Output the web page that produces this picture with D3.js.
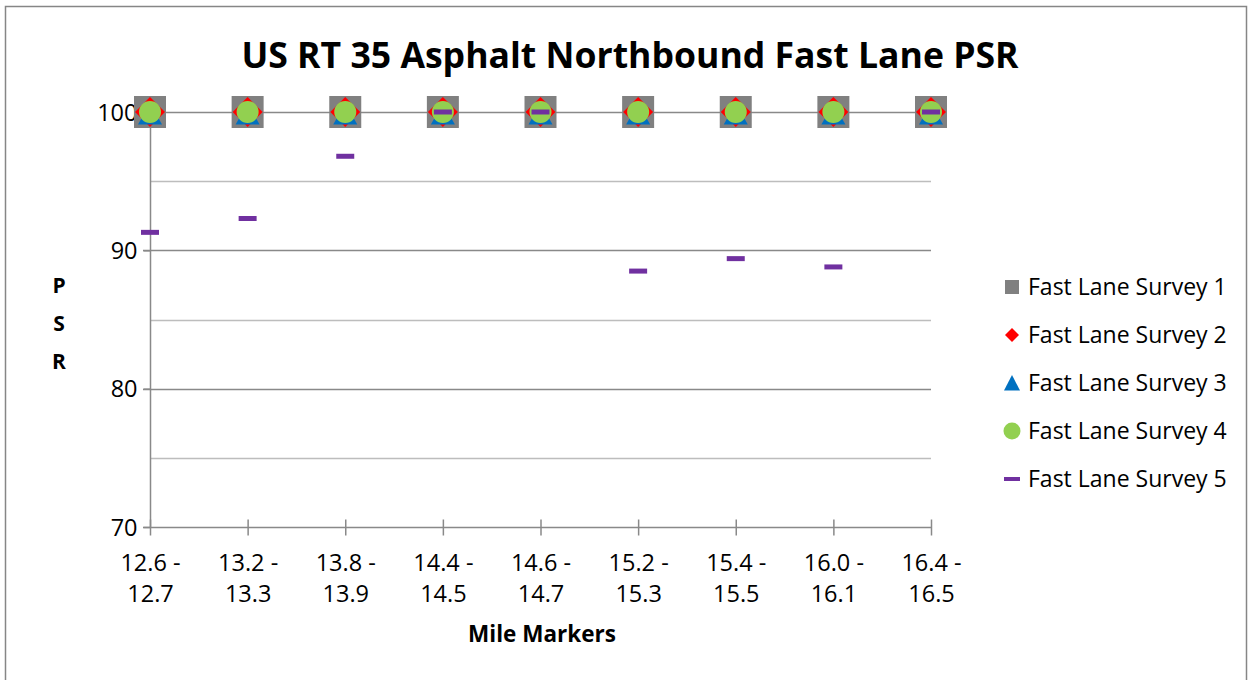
<!DOCTYPE html>
<html>
<head>
<meta charset="utf-8">
<script src="https://cdn.jsdelivr.net/npm/d3@7"></script>
<style>
  html, body { margin: 0; padding: 0; background: #fff; }
  svg { display: block; font-family: "Open Sans", sans-serif; }
</style>
</head>
<body>
<svg id="chart" width="1253" height="680"></svg>
<script>
// Mile-marker segments (two-line labels)
const segments = [
  ["12.6 -", "12.7"], ["13.2 -", "13.3"], ["13.8 -", "13.9"],
  ["14.4 -", "14.5"], ["14.6 -", "14.7"], ["15.2 -", "15.3"],
  ["15.4 -", "15.5"], ["16.0 -", "16.1"], ["16.4 -", "16.5"]
];

// PSR per survey, one value per segment
const survey1 = [100, 100, 100, 100, 100, 100, 100, 100, 100];
const survey2 = [100, 100, 100, 100, 100, 100, 100, 100, 100];
const survey3 = [100, 100, 100, 100, 100, 100, 100, 100, 100];
const survey4 = [100, 100, 100, 100, 100, 100, 100, 100, 100];
const survey5 = [91.3, 92.3, 96.8, 100, 100, 88.5, 89.4, 88.8, 100];

const seriesNames = ["Fast Lane Survey 1", "Fast Lane Survey 2", "Fast Lane Survey 3",
                     "Fast Lane Survey 4", "Fast Lane Survey 5"];
const majorTicks = [70, 80, 90, 100];
const minorTicks = [75, 85, 95];

const FONT = "'Open Sans', sans-serif";
const svg = d3.select("#chart");

// chart frame
svg.append("rect")
  .attr("x", 5.5).attr("y", 6.5)
  .attr("width", 1241).attr("height", 690)
  .attr("fill", "#fff").attr("stroke", "#868686").attr("stroke-width", 1.5);

const x = d3.scalePoint().domain(d3.range(segments.length)).range([150, 931]);
const y = d3.scaleLinear().domain([70, 100]).range([527, 112]);

// gridlines
svg.append("g").selectAll("line").data(minorTicks).join("line")
  .attr("x1", 150).attr("x2", 931)
  .attr("y1", d => Math.round(y(d)) + 0.5).attr("y2", d => Math.round(y(d)) + 0.5)
  .attr("stroke", "#bdbdbd").attr("stroke-width", 1.5);
svg.append("g").selectAll("line").data(majorTicks.filter(d => d > 70)).join("line")
  .attr("x1", 143).attr("x2", 931)
  .attr("y1", d => Math.round(y(d)) + 0.5).attr("y2", d => Math.round(y(d)) + 0.5)
  .attr("stroke", "#898989").attr("stroke-width", 1.5);

// y axis
const yAxis = svg.append("g")
  .attr("transform", "translate(150.5,0)")
  .call(d3.axisLeft(y).tickValues(majorTicks).tickSize(7).tickPadding(6).tickFormat(d3.format("d")));
yAxis.select(".domain").attr("stroke", "#898989").attr("stroke-width", 1.5).attr("d", `M0,${y(100)}V${y(70)}`);
yAxis.selectAll(".tick line").attr("stroke", "#898989").attr("stroke-width", 1.5);
yAxis.selectAll(".tick text").attr("font-size", 23.5).attr("fill", "#000")
  .attr("font-family", FONT).attr("dy", "0.35em");

// x axis
const xAxis = svg.append("g")
  .attr("transform", `translate(0,${Math.round(y(70)) + 0.5})`)
  .call(d3.axisBottom(x).tickSize(8).tickFormat(""));
xAxis.select(".domain").attr("stroke", "#898989").attr("stroke-width", 1.5).attr("d", "M143,0H931");
xAxis.selectAll(".tick line").attr("stroke", "#898989").attr("stroke-width", 1.5).attr("y1", -8);
xAxis.selectAll(".tick").each(function(d) {
  const t = d3.select(this).append("text")
    .attr("text-anchor", "middle").attr("font-size", 23.5).attr("fill", "#000")
    .attr("font-family", FONT);
  t.append("tspan").attr("x", 0).attr("y", 43.5).text(segments[d][0]);
  t.append("tspan").attr("x", 0).attr("y", 74.5).text(segments[d][1]);
});

// marker shapes
const shapes = {
  square: s => `M${-s},${-s}H${s}V${s}H${-s}Z`,
  diamond: s => `M0,${-s}L${s},0L0,${s}L${-s},0Z`,
  triangle: (w, top, base) => `M0,${-top}L${w},${base}L${-w},${base}Z`,
  dash: (w, h) => `M${-w},${-h}H${w}V${h}H${-w}Z`
};

const seriesStyle = [
  { data: survey1, color: "#808080", path: shapes.square(16) },
  { data: survey2, color: "#ff0000", path: shapes.diamond(15) },
  { data: survey3, color: "#0070c0", path: shapes.triangle(12, 9, 12.5) },
  { data: survey4, color: "#92d050", circle: 11 },
  { data: survey5, color: "#7030a0", path: shapes.dash(9, 2.5) }
];

const plot = svg.append("g");
seriesStyle.forEach(s => {
  const g = plot.append("g");
  s.data.forEach((v, i) => {
    if (s.circle) {
      g.append("circle").attr("cx", x(i)).attr("cy", y(v)).attr("r", s.circle).attr("fill", s.color);
    } else {
      g.append("path").attr("d", s.path)
        .attr("transform", `translate(${x(i)},${y(v)})`).attr("fill", s.color);
    }
  });
});

// title
svg.append("text")
  .attr("x", 630).attr("y", 68).attr("text-anchor", "middle")
  .attr("font-size", 35.6).attr("font-weight", "bold").attr("fill", "#000")
  .attr("font-family", FONT)
  .text("US RT 35 Asphalt Northbound Fast Lane PSR");

// axis titles
svg.append("text")
  .attr("x", 542).attr("y", 642).attr("text-anchor", "middle")
  .attr("font-size", 22.5).attr("font-weight", "bold").attr("fill", "#000")
  .attr("font-family", FONT)
  .text("Mile Markers");
["P", "S", "R"].forEach((c, i) => {
  svg.append("text")
    .attr("x", 59).attr("y", 293 + i * 38).attr("text-anchor", "middle")
    .attr("font-size", 21).attr("font-weight", "bold").attr("fill", "#000")
    .attr("font-family", FONT)
    .text(c);
});

// legend
const legendMarks = [
  { color: "#808080", path: shapes.square(7) },
  { color: "#ff0000", path: shapes.diamond(7) },
  { color: "#0070c0", path: shapes.triangle(8, 8, 7.5) },
  { color: "#92d050", circle: 8.5 },
  { color: "#7030a0", path: shapes.dash(8, 2) }
];
const legend = svg.append("g");
seriesNames.forEach((name, i) => {
  const cy = 287 + i * 48;
  const m = legendMarks[i];
  if (m.circle) {
    legend.append("circle").attr("cx", 1012).attr("cy", cy).attr("r", m.circle).attr("fill", m.color);
  } else {
    legend.append("path").attr("d", m.path).attr("transform", `translate(1012,${cy})`).attr("fill", m.color);
  }
  legend.append("text")
    .attr("x", 1028).attr("y", cy).attr("dy", "0.35em")
    .attr("font-size", 23).attr("fill", "#000")
    .attr("font-family", FONT)
    .text(name);
});
</script>
</body>
</html>
